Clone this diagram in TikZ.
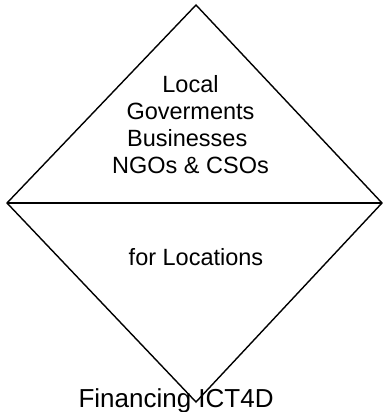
\documentclass[tikz,border=0pt]{standalone}
\usepackage{fontspec}
\setmainfont{Liberation Sans}
\begin{document}
\begin{tikzpicture}[x=1pt,y=-1pt,
  edge/.style={draw=black,line width=1.4pt,line join=miter},
  lbl/.style={inner sep=0pt,align=center,font=\fontsize{23.5}{27}\selectfont},
  ttl/.style={inner sep=0pt,font=\fontsize{26}{30}\selectfont}]
\useasboundingbox (0,0) rectangle (383,412);
\coordinate (T) at (196,5);
\coordinate (R) at (382,203);
\coordinate (B) at (196,402);
\coordinate (L) at (7,203);
\draw[edge] (T) -- (R) -- (B) -- (L) -- cycle;
\draw[edge] (L) -- (R);
\node[lbl,anchor=base] (top) at (190.5,173) {Local\\Goverments\\Businesses\hphantom{ }\\NGOs \& CSOs};
\node[lbl,anchor=base] (loc) at (196,265) {for Locations};
\node[ttl,anchor=base west] (title) at (78.3,407) {Financing ICT4D};
\end{tikzpicture}
\end{document}
